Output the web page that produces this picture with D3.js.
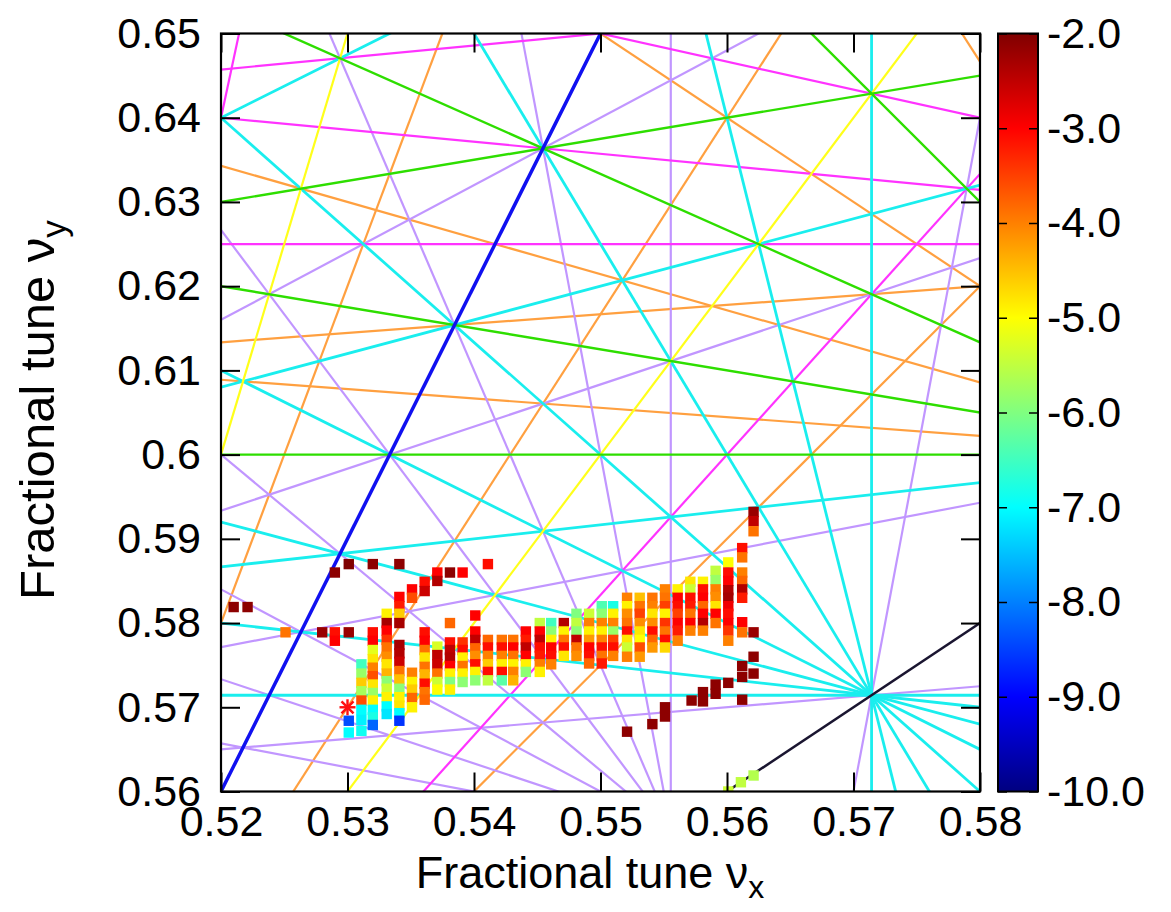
<!DOCTYPE html>
<html>
<head>
<meta charset="utf-8">
<script src="https://cdn.jsdelivr.net/npm/d3@7"></script>
<style>
  body { margin: 0; background: #fff; }
  text { font-family: "Liberation Sans", Arial, Helvetica, sans-serif; fill: #000; }
</style>
</head>
<body>
<svg id="chart" width="1171" height="912"></svg>
<script>
// ---- data -------------------------------------------------------------
const xTicks = [0.52, 0.53, 0.54, 0.55, 0.56, 0.57, 0.58];
const yTicks = [0.56, 0.57, 0.58, 0.59, 0.6, 0.61, 0.62, 0.63, 0.64, 0.65];
const cbTicks = [-2, -3, -4, -5, -6, -7, -8, -9, -10];

// resonance orders shown and their line colours / widths
const resonanceOrders = [1, 2, 3, 4, 5, 6, 7, 8, 9, 10];
const orderColors = ["#000000", "#1a1530", "#ff0000", "#1010f0", "#2ede00", "#ffff1a",
                     "#1aeeee", "#ff33ff", "#c196ff", "#ffa040"];
const orderWidths = [2.5, 2.5, 2.2, 3.5, 2.4, 2.2, 2.8, 2.2, 2.2, 2.2];

// working point
const workingPoint = [0.53, 0.57];

// frequency-map cells, column by column: horizontal tune + [vertical tune, diffusion]
const columnNux = [0.5290, 0.5301, 0.5311, 0.5320, 0.5331, 0.5341, 0.5351, 0.5361, 0.5371,
  0.5381, 0.5391, 0.5401, 0.5411, 0.5422, 0.5431, 0.5441, 0.5452, 0.5461, 0.5471, 0.5481,
  0.5491, 0.5501, 0.5510, 0.5521, 0.5531, 0.5541, 0.5551, 0.5561, 0.5571, 0.5581, 0.5591,
  0.5601, 0.5612, 0.5621];
const columnCells = [
  [[0.5789,-3.1],[0.5779,-3.0]],
  [[0.5789,-2.2],[0.5684,-8.4],[0.5670,-7.0]],
  [[0.5751,-6.5],[0.5740,-5.8],[0.5729,-4.6],[0.5719,-5.7],[0.5708,-3.6],[0.5697,-7.0],[0.5685,-7.1],[0.5672,-6.9]],
  [[0.5789,-3.1],[0.5779,-3.0],[0.5768,-5.2],[0.5757,-4.8],[0.5747,-4.0],[0.5737,-3.6],[0.5727,-4.8],[0.5717,-5.8],[0.5708,-4.9],[0.5697,-7.0],[0.5688,-6.8],[0.5679,-8.2]],
  [[0.5811,-4.9],[0.5800,-2.3],[0.5791,-3.0],[0.5780,-3.4],[0.5771,-3.9],[0.5760,-4.1],[0.5751,-4.8],[0.5740,-4.4],[0.5731,-5.9],[0.5722,-5.4],[0.5712,-4.9],[0.5701,-7.0],[0.5692,-7.2]],
  [[0.5831,-3.0],[0.5820,-3.2],[0.5811,-4.6],[0.5800,-2.3],[0.5774,-2.3],[0.5764,-2.4],[0.5754,-2.6],[0.5743,-3.9],[0.5733,-4.5],[0.5722,-5.9],[0.5712,-4.9],[0.5702,-4.8],[0.5693,-7.0],[0.5684,-8.6]],
  [[0.5840,-3.0],[0.5830,-3.6],[0.5741,-4.0],[0.5730,-4.9],[0.5721,-4.6],[0.5711,-3.8],[0.5700,-4.9]],
  [[0.5849,-3.1],[0.5838,-2.6],[0.5789,-3.1],[0.5779,-3.0],[0.5768,-3.9],[0.5759,-4.8],[0.5748,-3.9],[0.5739,-4.4],[0.5728,-3.1],[0.5718,-3.9],[0.5709,-3.8]],
  [[0.5860,-3.0],[0.5850,-2.4],[0.5772,-5.3],[0.5762,-2.5],[0.5751,-2.6],[0.5740,-3.9],[0.5730,-5.4],[0.5721,-5.0]],
  [[0.5860,-2.1],[0.5800,-3.8],[0.5777,-3.1],[0.5768,-2.5],[0.5759,-2.4],[0.5749,-3.0],[0.5740,-4.9],[0.5730,-6.0],[0.5721,-4.9]],
  [[0.5860,-3.0],[0.5777,-3.4],[0.5768,-3.1],[0.5759,-4.9],[0.5749,-3.9],[0.5740,-4.9],[0.5730,-5.9]],
  [[0.5809,-3.0],[0.5790,-3.0],[0.5780,-2.5],[0.5770,-3.8],[0.5761,-4.1],[0.5751,-3.1],[0.5742,-4.9],[0.5732,-5.9]],
  [[0.5870,-3.1],[0.5780,-3.8],[0.5771,-3.1],[0.5761,-4.0],[0.5751,-4.6],[0.5742,-3.1],[0.5732,-5.5]],
  [[0.5780,-3.9],[0.5771,-3.1],[0.5761,-4.0],[0.5751,-4.9],[0.5742,-3.1],[0.5732,-6.3]],
  [[0.5780,-3.9],[0.5771,-3.0],[0.5761,-3.9],[0.5751,-4.9],[0.5742,-4.0],[0.5732,-4.4]],
  [[0.5790,-3.0],[0.5780,-3.2],[0.5771,-2.5],[0.5761,-3.0],[0.5751,-4.9],[0.5742,-5.9]],
  [[0.5800,-5.5],[0.5790,-3.0],[0.5780,-2.5],[0.5771,-3.1],[0.5761,-3.2],[0.5751,-4.0],[0.5742,-4.9]],
  [[0.5800,-6.5],[0.5790,-5.9],[0.5780,-4.9],[0.5771,-3.0],[0.5761,-3.1],[0.5751,-4.0]],
  [[0.5800,-2.4],[0.5790,-4.9],[0.5780,-3.9],[0.5771,-3.1],[0.5761,-4.8]],
  [[0.5811,-6.0],[0.5800,-5.5],[0.5790,-5.9],[0.5780,-2.5],[0.5771,-3.9],[0.5761,-4.1]],
  [[0.5811,-5.4],[0.5800,-4.0],[0.5790,-4.9],[0.5780,-4.2],[0.5771,-3.0],[0.5761,-3.1],[0.5752,-3.8]],
  [[0.5820,-6.4],[0.5811,-5.9],[0.5800,-4.0],[0.5790,-4.9],[0.5780,-4.0],[0.5771,-3.1],[0.5761,-3.9],[0.5752,-3.2]],
  [[0.5820,-6.8],[0.5811,-4.9],[0.5800,-4.0],[0.5790,-5.8],[0.5780,-3.5],[0.5771,-3.1],[0.5761,-4.0]],
  [[0.5830,-4.0],[0.5820,-4.9],[0.5811,-4.1],[0.5800,-3.9],[0.5790,-3.1],[0.5780,-4.8],[0.5771,-5.4],[0.5760,-4.0]],
  [[0.5830,-4.5],[0.5820,-3.9],[0.5811,-3.5],[0.5800,-4.1],[0.5790,-4.8],[0.5780,-5.0],[0.5771,-3.6],[0.5760,-4.2]],
  [[0.5830,-3.9],[0.5820,-4.0],[0.5811,-4.8],[0.5800,-4.1],[0.5790,-3.1],[0.5780,-3.8],[0.5771,-4.2]],
  [[0.5840,-4.0],[0.5830,-3.9],[0.5820,-3.5],[0.5811,-4.9],[0.5800,-3.4],[0.5790,-3.9],[0.5780,-3.1],[0.5771,-4.7]],
  [[0.5840,-4.9],[0.5830,-3.0],[0.5820,-3.1],[0.5811,-3.5],[0.5800,-3.0],[0.5791,-3.2],[0.5779,-4.0]],
  [[0.5849,-4.8],[0.5840,-5.4],[0.5830,-3.1],[0.5820,-3.2],[0.5811,-3.9],[0.5800,-3.0],[0.5791,-4.0]],
  [[0.5849,-4.9],[0.5840,-3.1],[0.5830,-3.0],[0.5820,-3.8],[0.5811,-3.0],[0.5800,-2.4],[0.5791,-4.0]],
  [[0.5862,-5.5],[0.5851,-5.8],[0.5840,-4.0],[0.5831,-4.1],[0.5820,-4.8],[0.5811,-3.0],[0.5800,-3.9]],
  [[0.5872,-5.0],[0.5860,-3.1],[0.5850,-3.0],[0.5839,-2.4],[0.5830,-2.3],[0.5820,-2.9],[0.5811,-3.1],[0.5800,-3.0],[0.5791,-3.4],[0.5779,-4.0]],
  [[0.5889,-3.1],[0.5878,-3.9],[0.5860,-4.0],[0.5850,-3.8],[0.5840,-2.4],[0.5830,-3.2],[0.5801,-3.0],[0.5789,-3.9]],
  [[0.5932,-2.2],[0.5921,-2.5],[0.5909,-3.9],[0.5789,-2.2]]
];

// isolated cells away from the main band: [nux, nuy, diffusion]
const strayPoints = [
  [0.5210,0.5819,-2.1],[0.5221,0.5819,-2.1],[0.5251,0.5789,-3.9],[0.5280,0.5789,-2.2],
  [0.5290,0.5860,-2.1],[0.5301,0.5870,-2.0],[0.5320,0.5870,-2.1],[0.5341,0.5870,-2.1],
  [0.5521,0.5671,-2.1],[0.5541,0.5680,-2.1],[0.5551,0.5700,-2.1],[0.5551,0.5689,-2.1],
  [0.5572,0.5708,-2.1],[0.5581,0.5718,-2.1],[0.5581,0.5707,-2.1],[0.5591,0.5727,-2.1],
  [0.5591,0.5716,-2.1],[0.5601,0.5729,-2.1],[0.5612,0.5749,-2.1],[0.5612,0.5736,-2.1],
  [0.5612,0.5709,-2.1],[0.5621,0.5760,-2.1],[0.5621,0.5740,-2.1],
  [0.5621,0.5619,-5.6],[0.5611,0.5611,-5.5],[0.5601,0.5600,-5.4]
];

// colour palette of the diffusion scale
const paletteStops = [-10, -9, -8, -7, -6, -5, -4, -3, -2];
const paletteColors = ["#000080", "#0000ff", "#0080ff", "#00ffff", "#80ff80",
                       "#ffff00", "#ff8000", "#ff0000", "#800000"];

// ---- layout -----------------------------------------------------------
const svg = d3.select("#chart");
const margin = {left: 221, top: 33.5};
const W = 759, H = 758;
const g = svg.append("g").attr("transform", `translate(${margin.left},${margin.top})`);

const x = d3.scaleLinear().domain([0.52, 0.58]).range([0, W]);
const y = d3.scaleLinear().domain([0.56, 0.65]).range([H, 0]);
const color = d3.scaleLinear().domain(paletteStops).range(paletteColors).clamp(true);

const defs = svg.append("defs");
defs.append("clipPath").attr("id", "plotClip")
  .append("rect").attr("width", W).attr("height", H);

// ---- resonance lines --------------------------------------------------
function gcd(a, b) { return b === 0 ? a : gcd(b, a % b); }
const corners = [[0.52, 0.56], [0.52, 0.65], [0.58, 0.56], [0.58, 0.65]];
const resonances = [];
resonanceOrders.slice().reverse().forEach(N => {
  for (let n = 0; n <= N; n++) {
    const ma = N - n;
    const signs = (n === 0 || ma === 0) ? [1] : [1, -1];
    signs.forEach(s => {
      const m = s * ma;
      const vals = corners.map(([a, b]) => m * a + n * b);
      const lo = Math.ceil(d3.min(vals) - 1e-9), hi = Math.floor(d3.max(vals) + 1e-9);
      for (let p = lo; p <= hi; p++) {
        if (gcd(gcd(Math.abs(m), n), Math.abs(p)) !== 1) continue;
        resonances.push({N, m, n, p});
      }
    });
  }
});

const lineLayer = g.append("g").attr("clip-path", "url(#plotClip)");
lineLayer.selectAll("line.res").data(resonances).join("line")
  .attr("class", "res")
  .attr("x1", d => d.n === 0 ? x(d.p / d.m) : x(0.52))
  .attr("x2", d => d.n === 0 ? x(d.p / d.m) : x(0.58))
  .attr("y1", d => d.n === 0 ? y(0.56) : y((d.p - d.m * 0.52) / d.n))
  .attr("y2", d => d.n === 0 ? y(0.65) : y((d.p - d.m * 0.58) / d.n))
  .attr("stroke", d => orderColors[d.N - 1])
  .attr("stroke-width", d => orderWidths[d.N - 1]);

// ---- frequency map cells ----------------------------------------------
const cells = [];
columnNux.forEach((nux, i) => columnCells[i].forEach(([nuy, dv]) => cells.push([nux, nuy, dv])));
strayPoints.forEach(p => cells.push(p));

const cellSize = 10.4;
const cellLayer = g.append("g").attr("clip-path", "url(#plotClip)");
cellLayer.selectAll("rect.cell").data(cells).join("rect")
  .attr("class", "cell")
  .attr("x", d => x(d[0]) - cellSize / 2)
  .attr("y", d => y(d[1]) - cellSize / 2)
  .attr("width", cellSize).attr("height", cellSize)
  .attr("fill", d => color(d[2]));

// working point star
const star = g.append("g")
  .attr("transform", `translate(${x(workingPoint[0])},${y(workingPoint[1])})`)
  .attr("stroke", "#ff1010").attr("stroke-width", 2.4);
[[-8, 0, 8, 0], [0, -8, 0, 8], [-6, -6, 6, 6], [-6, 6, 6, -6]].forEach(s =>
  star.append("line").attr("x1", s[0]).attr("y1", s[1]).attr("x2", s[2]).attr("y2", s[3]));

// ---- axes -------------------------------------------------------------
const fmt = d3.format("~g");
const tickLen = 19;
const axFont = 43;

const xb = g.append("g").attr("transform", `translate(0,${H})`)
  .call(d3.axisBottom(x).tickValues(xTicks).tickSizeInner(-tickLen).tickSizeOuter(0)
    .tickPadding(14).tickFormat(fmt));
const xt = g.append("g")
  .call(d3.axisTop(x).tickValues(xTicks).tickSizeInner(-tickLen).tickSizeOuter(0).tickFormat(""));
const yl = g.append("g")
  .call(d3.axisLeft(y).tickValues(yTicks).tickSizeInner(-tickLen).tickSizeOuter(0)
    .tickPadding(20).tickFormat(fmt));
const yr = g.append("g").attr("transform", `translate(${W},0)`)
  .call(d3.axisRight(y).tickValues(yTicks).tickSizeInner(-tickLen).tickSizeOuter(0).tickFormat(""));

[xb, xt, yl, yr].forEach(a => {
  a.select(".domain").remove();
  a.selectAll(".tick line").attr("stroke", "#000").attr("stroke-width", 2);
  a.selectAll(".tick text").attr("font-size", axFont).attr("font-family", null).attr("fill", "#000");
});

g.append("rect").attr("width", W).attr("height", H)
  .attr("fill", "none").attr("stroke", "#000").attr("stroke-width", 2.2);

// axis titles
const xTitle = svg.append("text").attr("x", 590).attr("y", 888)
  .attr("text-anchor", "middle").attr("font-size", 45);
xTitle.append("tspan").text("Fractional tune \u03bd");
xTitle.append("tspan").attr("font-size", 32).attr("dy", 10).text("x");

const yTitle = svg.append("text")
  .attr("transform", "translate(54,410) rotate(-90)")
  .attr("text-anchor", "middle").attr("font-size", 49);
yTitle.append("tspan").text("Fractional tune \u03bd");
yTitle.append("tspan").attr("font-size", 35).attr("dy", 12).text("y");

// ---- colour bar -------------------------------------------------------
const cbW = 40;
const cb = svg.append("g").attr("transform", `translate(998,${margin.top})`);
const cbScale = d3.scaleLinear().domain([-10, -2]).range([H, 0]);

const grad = defs.append("linearGradient").attr("id", "cbGrad")
  .attr("x1", 0).attr("y1", 1).attr("x2", 0).attr("y2", 0);
paletteStops.forEach((v, i) => grad.append("stop")
  .attr("offset", (v + 10) / 8).attr("stop-color", paletteColors[i]));

cb.append("rect").attr("width", cbW).attr("height", H).attr("fill", "url(#cbGrad)");

const cbR = cb.append("g").attr("transform", `translate(${cbW},0)`)
  .call(d3.axisRight(cbScale).tickValues(cbTicks).tickSizeInner(-9).tickSizeOuter(0)
    .tickPadding(9).tickFormat(d => d.toFixed(1)));
const cbL = cb.append("g")
  .call(d3.axisLeft(cbScale).tickValues(cbTicks).tickSizeInner(-9).tickSizeOuter(0).tickFormat(""));
[cbR, cbL].forEach(a => {
  a.select(".domain").remove();
  a.selectAll(".tick line").attr("stroke", "#000").attr("stroke-width", 1.5);
  a.selectAll(".tick text").attr("font-size", axFont).attr("font-family", null).attr("fill", "#000");
});
cb.append("rect").attr("width", cbW).attr("height", H)
  .attr("fill", "none").attr("stroke", "#000").attr("stroke-width", 2);
</script>
</body>
</html>
